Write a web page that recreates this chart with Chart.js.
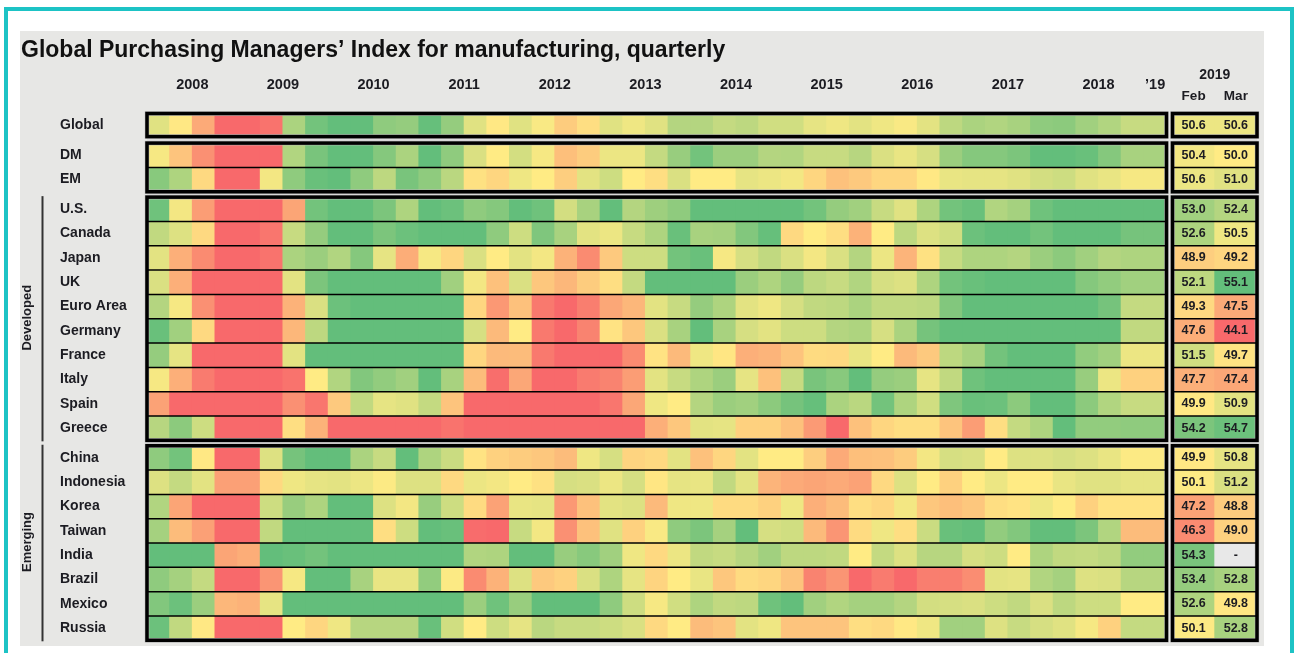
<!DOCTYPE html>
<html>
<head>
<meta charset="utf-8">
<title>Global PMI for manufacturing</title>
<script src="https://cdn.jsdelivr.net/npm/chart.js@4"></script>
<style>
  html, body { margin: 0; padding: 0; width: 1295px; height: 653px; overflow: hidden; background: #fff; }
  #frame { position: absolute; left: 4px; top: 7px; width: 1282px; height: 700px; border: 4px solid #1dc3c5; box-sizing: content-box; }
  #panel { position: absolute; left: 20px; top: 31px; width: 1244px; height: 615px; background: #e7e7e5; }
  canvas { position: absolute; top: 0; }
  #heat { left: 0; }
  #latest { left: 1165px; }
</style>
</head>
<body>
<div id="frame"></div>
<div id="panel"></div>
<canvas id="heat" width="1170" height="653"></canvas>
<canvas id="latest" width="99" height="653"></canvas>
<script>
const chartTitle = 'Global Purchasing Managers’ Index for manufacturing, quarterly';
const rowNames = ['Global', 'DM', 'EM', 'U.S.', 'Canada', 'Japan', 'UK', 'Euro Area', 'Germany', 'France', 'Italy', 'Spain', 'Greece',
  'China', 'Indonesia', 'Korea', 'Taiwan', 'India', 'Brazil', 'Mexico', 'Russia'];
const yearLabels = ['2008', '2009', '2010', '2011', '2012', '2013', '2014', '2015', '2016', '2017', '2018', '’19'];
const monthLabels = ['Feb', 'Mar'];
const latestYear = '2019';

// quarterly values 2008Q1 .. 2019Q1
const globalPmi = [51,49.9,47.5,44,44,45.4,52.7,54.5,55.5,55.5,53.6,53.4,54.9,53.4,51,
  49.9,51,50.2,48.8,49.5,51,50.5,51,52.4,52.4,51.9,52.1,51.5,51.5,50.8,50.5,
  50.9,50.5,50.2,50.9,52.1,52.7,52.5,52.8,53.6,53.7,53,52.5,51.8,51.8];
const dmPmi = [50.3,48.5,46.5,44,44,44.5,52.5,54.3,55,55,53.9,52.7,55,53.6,51.2,
  50,51.4,50.3,48.3,48.8,50.6,50.6,51.9,53.3,54.5,53.2,53.2,52.4,52.5,51.8,51.8,
  52.3,51.2,50.7,51.3,53.2,53.9,53.9,54.2,55,55,54.8,53.9,52.8,52.8];
const emPmi = [53.8,52.6,49.3,44,44.8,50.4,53.6,54.8,55,53.6,52.1,54.3,53.6,52.2,49.6,
  49.2,50.5,50,48.9,50.9,51.6,50,49.5,51.2,50,50,50.8,50.6,50.4,49.2,48.4,
  48.7,49.2,49.2,49.9,50.7,50.8,50.8,51,51.4,51.6,51,50.7,50.3,50.3];
const usPmi = [54.6,50.4,47,44,44,44,47.3,54.5,55.5,55.5,54.2,52.6,55.2,54.7,53.6,
  53.9,55,54.6,51.4,52.8,55.5,52.4,53.1,53.6,55.5,55.5,55.5,55.5,55.5,54.5,53.4,
  53,51.8,51,52.6,54.5,54.8,52.5,52.9,54.6,55.5,55.5,55.5,55.5,55.5];
const canadaPmi = [52,51.1,49.3,44.5,44.5,45.5,51.8,53.4,55,55,54.2,54.7,55,55,55,
  53.6,51.6,54.1,52.8,50.9,50.6,51.8,52.6,54.8,52.8,52.9,54,54.9,49.3,50,49.5,
  47.8,50,52.1,51.1,51.5,54.7,55,55,54.5,55,55,55,54.4,54.4];
const japanPmi = [50.9,47.7,46.3,45,45,45.4,52.7,53.2,52.5,53.9,50.8,47.6,50.3,49.2,51.2,
  50,50.9,50.4,47.8,46.3,48.7,51.6,51.6,54.5,54.8,50.3,51.3,52,51.2,50.4,51.2,
  52.4,50.6,47.9,49.6,51.8,52.6,52.6,52.4,53.2,53.7,53,52.4,52.6,52.6];
const ukPmi = [51.2,47.7,44.5,44.5,44.5,44.5,50.9,54.2,55.5,55.5,55.5,55.5,55.5,53,50.4,
  48.4,51.2,48.6,48,48.8,49.5,51.9,55.5,55.5,55.5,55.5,53.2,52.6,53.4,52.1,51.8,
  52.5,51.3,51.1,52.6,54.5,54.8,55.5,55.5,55.5,55.5,53.9,53.5,53,53];
const euroPmi = [52.4,50.3,46.5,44,44,44,47.8,51.2,54.7,55.5,55.5,55.5,55.5,55.5,49.2,
  46.8,48.4,45.6,45,45.8,47.4,48,50.9,51.8,53.4,52.6,50.9,50.5,51.3,52,52.1,
  52.7,52,52,52.1,54,55.5,55.5,55.5,55.5,55.5,55.5,54.4,51.9,51.9];
const germanyPmi = [54.8,53,49.3,44,44,44,48,52.1,55.5,55.5,55.5,55.5,55.5,55.5,51.3,
  48.1,50,45.6,45,46,49.7,48.6,51.2,52.8,55,52.8,51.3,50.9,51.6,51.6,52.4,
  52.6,51.3,52.7,54.4,55.5,55.5,55.5,55.5,55.5,55.5,55.5,55.5,52,52];
const francePmi = [53.4,50.8,44.5,44.5,44.5,44.5,50.9,55.5,55.5,55.5,55.5,55.5,55.5,55.5,49.2,
  48.1,48.2,45.6,44.8,44.8,44.8,46.3,49.7,48.1,50.5,49.8,47.7,47.9,48.5,49.4,49.3,
  50.7,50,48.1,48.7,52.1,52.8,54.5,55.5,55.5,55.5,53.5,53,50.6,50.6];
const italyPmi = [50.3,47.7,45.7,44.8,44.8,44.8,45.4,50,52.5,54,53.5,53,55,52.8,48.2,
  45.2,47.4,44.9,44.9,45.7,46,47,50.9,51.8,52.6,53.2,50.8,48.4,51.8,54.3,53.8,
  55,53.4,53.2,50.8,52,54.6,55.5,55.5,55.5,55.5,53.3,50.6,49,49];
const spainPmi = [47.2,44,44,44,44,44,46.5,45.5,48.7,52,50.8,51,51.9,48.5,44,
  44,44,44,44,44,45.5,47.4,50.5,50,52.4,53.2,53,53.7,54.4,54.9,52.7,
  52.2,54.5,52.6,51.5,54.1,54.8,54.7,53.7,55,55,53.7,52.5,51.8,51.8];
const greecePmi = [52.3,53.7,51.6,44,44,44,49.5,47.8,44,44,44,44,44,45.4,44,
  44,44,44,44,44,44,45,47.7,48.6,50.9,50.8,49,49,48.4,46.9,44.8,
  48.4,49.2,49.5,49.5,48.5,47,49.5,51.9,52.6,55,53.5,53.5,53.6,53.6];
const chinaPmi = [53.6,54.5,49.9,45,45,51.1,54.4,55.5,55.5,52.7,51.8,55,52.6,51.7,49.7,
  49,48.8,48.6,48.2,50.5,51.3,49.1,49.3,50.9,48.4,49.2,50.9,50,50,48.9,47.5,
  48.3,48.4,48.8,50.4,51.3,51.2,50,51.1,51.1,51.3,51.1,50.7,50.1,50.1];
const indonesiaPmi = [51.1,51.9,50.9,47.1,47.1,49.3,50.5,50.8,50.9,50.6,50.1,51.1,51.1,49.3,50.6,
  50.4,50,49.6,51.3,51.2,50.6,51.3,49.8,50.8,50.7,52,50.9,47.9,47.5,47.3,47.5,
  47.2,49.3,51.1,50,49,50,50.6,50,50,50.7,51,51,50.8,50.8];
const koreaPmi = [52.5,47.3,44.5,44.5,44.5,51.6,53.3,52.6,55,55,51.1,50.4,53.3,51.6,49.4,
  47.2,50.7,50.8,46.8,48.4,50.9,51.1,48.1,50.5,50.5,49.4,49.4,49,50.5,47.7,48.2,
  49.5,49.2,50.4,48.6,48.3,48.6,49.5,49.7,50.5,50,49,49.7,49.7,49.7];
const taiwanPmi = [52.9,48.2,47.1,44.5,44.5,52,55.5,55.5,55.5,55.5,49.5,51.6,55,54.8,45.1,
  44.9,51.8,50.4,46.5,48.4,51,49,50.2,53.6,54.2,52.9,55,51.3,51.5,48.1,46.7,
  49.4,50.5,49.5,51.7,54.8,55,53.5,54,55,55,54.2,52.5,48.2,48.2];
const indiaPmi = [55.5,55.5,55.5,47.3,47.6,55.2,54.8,54.5,55.5,55.5,55.5,55.5,55.5,55.5,52.5,
  52.6,55,55,53.3,53.8,53,50.5,49.3,50.6,52,51.8,52.3,53,52.1,52.1,52,
  50,51.9,51.1,52.3,52.3,51.3,51.6,50,52.6,52,51.9,52.1,53.5,53.5];
const brazilPmi = [53.6,52.9,51.9,44.5,44.5,46.7,50.3,55.5,55.5,52.8,50.7,50.7,53.5,50.1,46.3,
  47.8,51.1,48.7,49,51.2,52.6,50.8,49.1,50,50.7,48.6,49.4,49.2,48.5,46,46.7,
  44.9,45.7,45,45.8,45.8,46.4,50.9,50.8,52.5,52.9,51.1,51.2,52.3,52.3];
const mexicoPmi = [54,54.7,53.2,48,47.8,50.8,55.5,55.5,55.5,55.5,55.5,55.5,55.5,55.5,53.2,
  54.6,53.3,55,55,55,53.6,51.6,50.3,51.5,52.6,52,52.1,54.6,55,53,52.5,
  52.9,52.9,52.4,51.4,51.3,51.2,51.6,52,51.2,52.1,51.6,51.6,50,50];
const russiaPmi = [54.7,52,49.9,44.5,44.5,44.8,50,49.2,50.5,52.3,52.3,52.3,54.8,51.5,50,
  51.6,50.8,52.2,51.8,51.8,51.6,51.2,49.3,50,48.2,48.5,50.9,50.5,48.5,48.5,48.5,
  49.5,49.3,49.9,50.5,53,53,51.1,51.8,51.3,51,50.3,49,51.9,51.9];

const febValues = [50.6,50.4,50.6,53.0,52.6,48.9,52.1,49.3,47.6,51.5,47.7,49.9,54.2,49.9,50.1,47.2,46.3,54.3,53.4,52.6,50.1];
const marValues = [50.6,50.0,51.0,52.4,50.5,49.2,55.1,47.5,44.1,49.7,47.4,50.9,54.7,50.8,51.2,48.8,49.0,null,52.8,49.8,52.8];

const heatRows = [globalPmi, dmPmi, emPmi, usPmi, canadaPmi, japanPmi, ukPmi, euroPmi, germanyPmi, francePmi, italyPmi, spainPmi, greecePmi,
  chinaPmi, indonesiaPmi, koreaPmi, taiwanPmi, indiaPmi, brazilPmi, mexicoPmi, russiaPmi];

const groupSizes = [1, 2, 10, 8];
const groupGaps = [0.267, 0.222, 0.222];
const sideLabels = [{ text: 'Developed', group: 2 }, { text: 'Emerging', group: 3 }];

const quarters = globalPmi.map((_, i) => i);
const textFont = '"Liberation Sans", Arial, sans-serif';
const textColor = '#1c1c22';

// y layout is in row units, groups separated by small gaps. Global row is a bit shorter
const rowBands = [];
const groupBands = [];
let cursor = 0;
groupSizes.forEach((size, g) => {
  const start = cursor;
  for (let i = 0; i < size; i++) {
    const height = g === 0 ? 0.95 : 1;
    rowBands.push([cursor, cursor + height]);
    cursor += height;
  }
  groupBands.push([start, cursor]);
  cursor += groupGaps[g] || 0;
});
const yMax = cursor;

function mix(a, b, t) {
  return a.map((v, i) => Math.round(v + (b[i] - v) * t));
}

// same three colour scale as the source table: 45 red, 50 yellow, 55 green
function pmiColor(v) {
  if (v === null) return '#e8e8e8';
  const red = [248, 105, 107], yellow = [255, 235, 132], green = [99, 190, 123];
  const c = v < 50
    ? mix(red, yellow, Math.max(0, (v - 45) / 5))
    : mix(yellow, green, Math.min(1, (v - 50) / 5));
  return `rgb(${c.join(',')})`;
}

const rowFrames = {
  id: 'rowFrames',
  beforeDatasetsDraw(chart) {
    const { ctx, chartArea: area, scales: { y } } = chart;
    ctx.save();
    ctx.fillStyle = '#dcdcdc';
    groupBands.slice(1).forEach((band, g) => {
      const top = y.getPixelForValue(groupBands[g][1]);
      ctx.fillRect(area.left, top, area.width, y.getPixelForValue(band[0]) - top);
    });
    ctx.restore();
  },
  afterDatasetsDraw(chart) {
    const { ctx, chartArea: area, scales: { y } } = chart;
    ctx.save();
    groupBands.forEach((band) => {
      const top = y.getPixelForValue(band[0]);
      const bottom = y.getPixelForValue(band[1]);
      ctx.strokeStyle = '#bbbbbb';
      ctx.lineWidth = 4.5;
      ctx.strokeRect(area.left, top, area.width, bottom - top);
      ctx.strokeStyle = '#000';
      ctx.lineWidth = 1.5;
      for (let r = band[0] + 1; r < band[1]; r++) {
        const py = y.getPixelForValue(r);
        ctx.beginPath();
        ctx.moveTo(area.left, py);
        ctx.lineTo(area.right, py);
        ctx.stroke();
      }
      ctx.lineWidth = 3.5;
      ctx.strokeRect(area.left, top, area.width, bottom - top);
    });
    ctx.restore();
  },
};

const sideGroups = {
  id: 'sideGroups',
  afterDraw(chart) {
    const { ctx, scales: { y, groups } } = chart;
    ctx.save();
    ctx.fillStyle = textColor;
    ctx.strokeStyle = '#333';
    ctx.font = `bold 13px ${textFont}`;
    ctx.textAlign = 'center';
    ctx.textBaseline = 'middle';
    sideLabels.forEach(({ text, group }) => {
      const [from, to] = groupBands[group];
      const top = y.getPixelForValue(from);
      const bottom = y.getPixelForValue(to);
      ctx.lineWidth = 2;
      ctx.beginPath();
      ctx.moveTo(groups.left + 21.5, top - 1);
      ctx.lineTo(groups.left + 21.5, bottom + 1);
      ctx.stroke();
      ctx.save();
      ctx.translate(groups.left + 6.5, (top + bottom) / 2 - 1);
      ctx.rotate(-Math.PI / 2);
      ctx.fillText(text, 0, 0);
      ctx.restore();
    });
    ctx.restore();
  },
};

const cellLabels = {
  id: 'cellLabels',
  afterDatasetsDraw(chart) {
    const { ctx } = chart;
    ctx.save();
    ctx.fillStyle = textColor;
    ctx.font = `bold 12.5px ${textFont}`;
    ctx.textAlign = 'center';
    ctx.textBaseline = 'middle';
    chart.data.datasets.forEach((ds, r) => {
      chart.getDatasetMeta(r).data.forEach((bar, c) => {
        const v = ds.values[c];
        ctx.fillText(v === null ? '-' : v.toFixed(1), bar.x, (bar.base + bar.y) / 2);
      });
    });
    ctx.restore();
  },
};

function rowAxis() {
  return { type: 'linear', reverse: true, min: 0, max: yMax, grid: { display: false }, border: { display: false } };
}

new Chart(document.getElementById('heat'), {
  type: 'bar',
  data: {
    labels: quarters,
    datasets: heatRows.map((values, r) => ({
      label: rowNames[r],
      data: values.map(() => rowBands[r]),
      backgroundColor: values.map(pmiColor),
      barPercentage: 1.04,
      categoryPercentage: 1,
      grouped: false,
      borderWidth: 0,
    })),
  },
  options: {
    responsive: false,
    animation: false,
    layout: { padding: { left: 21, right: 3.5, bottom: 12.7 } },
    plugins: {
      legend: { display: false },
      tooltip: { enabled: false },
      title: {
        display: true,
        text: chartTitle,
        align: 'start',
        color: '#111',
        font: { family: textFont, size: 23, weight: 'bold' },
        padding: { top: 36.5, bottom: 0 },
      },
    },
    scales: {
      x: { display: false, grid: { display: false } },
      years: {
        type: 'linear',
        position: 'top',
        offset: false,
        min: 0,
        max: quarters.length,
        grid: { display: false, drawTicks: false },
        border: { display: false },
        afterBuildTicks(axis) {
          axis.ticks = yearLabels.map((_, i) => ({ value: i === yearLabels.length - 1 ? i * 4 + 0.5 : i * 4 + 2 }));
        },
        afterFit(axis) {
          axis.height = 49.4;
          axis.paddingLeft = 0;
          axis.paddingRight = 0;
        },
        ticks: {
          autoSkip: false,
          maxRotation: 0,
          padding: 20,
          color: textColor,
          font: { family: textFont, size: 14.5, weight: 'bold' },
          callback: (value) => yearLabels[Math.floor(value / 4)],
        },
      },
      y: {
        ...rowAxis(),
        afterBuildTicks(axis) {
          axis.ticks = rowBands.map((band) => ({ value: (band[0] + band[1]) / 2 }));
        },
        afterFit(axis) { axis.width = 87; },
        ticks: {
          autoSkip: false,
          crossAlign: 'far',
          color: textColor,
          font: { family: textFont, size: 14, weight: 'bold' },
          callback: (value) => rowNames[rowBands.findIndex((band) => value >= band[0] && value < band[1])],
        },
      },
      groups: {
        type: 'linear',
        position: 'left',
        weight: 1,
        min: 0,
        max: 1,
        grid: { display: false },
        border: { display: false },
        ticks: { display: false },
        afterFit(axis) { axis.width = 39; },
      },
    },
  },
  plugins: [rowFrames, sideGroups],
});

new Chart(document.getElementById('latest'), {
  type: 'bar',
  data: {
    labels: monthLabels,
    datasets: rowNames.map((name, r) => {
      const values = [febValues[r], marValues[r]];
      return {
        label: name,
        values,
        data: values.map(() => rowBands[r]),
        backgroundColor: values.map(pmiColor),
        barPercentage: 1.02,
        categoryPercentage: 1,
        grouped: false,
        borderWidth: 0,
      };
    }),
  },
  options: {
    responsive: false,
    animation: false,
    layout: { padding: { left: 7.5, right: 7, bottom: 12.7 } },
    plugins: { legend: { display: false }, tooltip: { enabled: false } },
    scales: {
      x: {
        position: 'top',
        grid: { display: false, drawTicks: false },
        border: { display: false },
        afterFit(axis) { axis.height = 113.5; },
        title: {
          display: true,
          text: latestYear,
          color: textColor,
          font: { family: textFont, size: 14, weight: 'bold' },
          padding: { top: 67, bottom: 0 },
        },
        ticks: {
          maxRotation: 0,
          padding: 9,
          color: textColor,
          font: { family: textFont, size: 13.5, weight: 'bold' },
        },
      },
      y: { ...rowAxis(), display: false },
    },
  },
  plugins: [rowFrames, cellLabels],
});
</script>
</body>
</html>
